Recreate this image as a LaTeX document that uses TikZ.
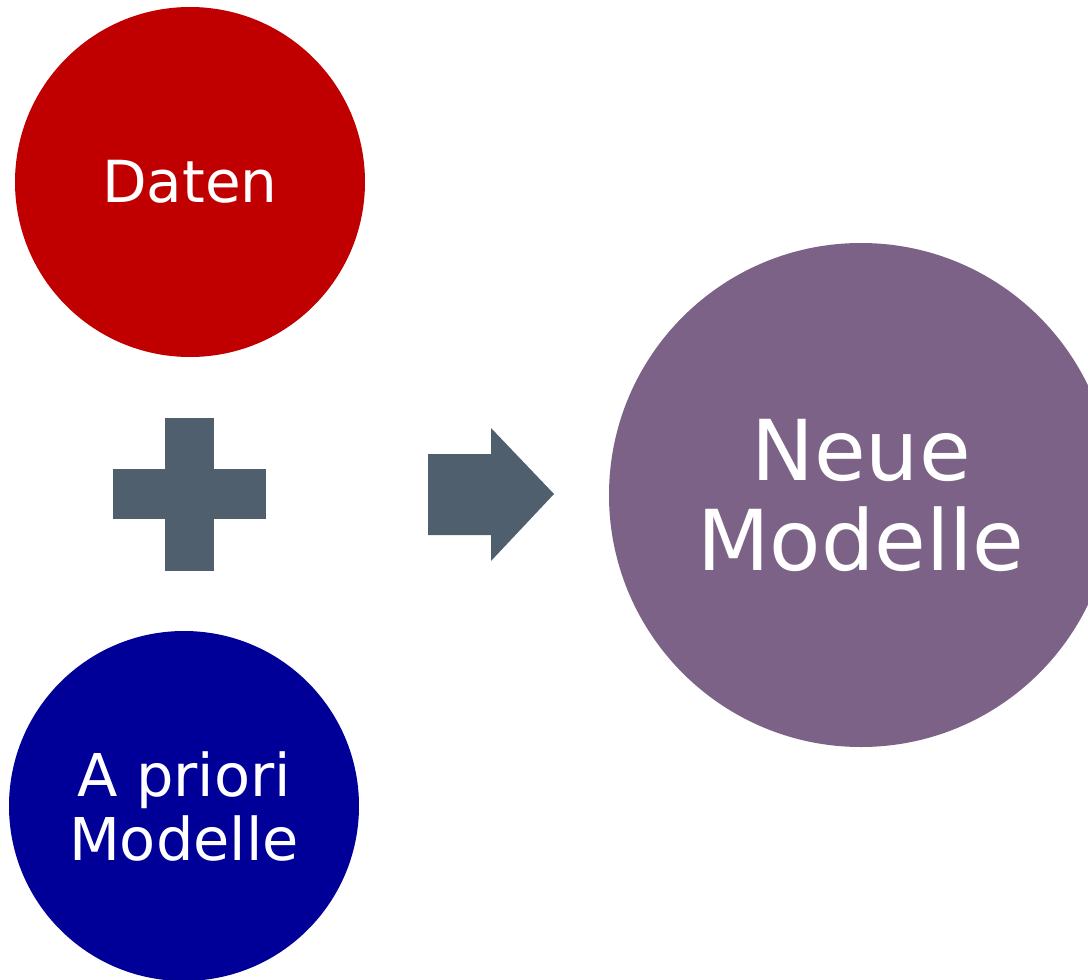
\documentclass[tikz,border=0pt]{standalone}
\usepackage{fontspec}
\setmainfont{DejaVu Sans}
\begin{document}
\begin{tikzpicture}[x=1pt,y=-1pt]
\definecolor{datenred}{HTML}{C00000}
\definecolor{prioriblue}{HTML}{000099}
\definecolor{neuepurple}{HTML}{7D6287}
\definecolor{opgray}{HTML}{4F5F6D}
\tikzset{
  bubble/.style={circle,inner sep=0pt,text=white,align=center},
  opshape/.style={fill=opgray,draw=none}
}
\useasboundingbox (0,0) rectangle (1088,980);
\clip (0,0) rectangle (1088,980);
% input circles
\node[bubble,fill=datenred,minimum size=350pt,
      font=\fontsize{58pt}{64pt}\selectfont] (daten) at (190,182) {Daten};
\node[bubble,fill=prioriblue,minimum size=350pt,
      font=\fontsize{59pt}{64pt}\selectfont] (priori) at (184,806) {A priori\\Modelle};
% result circle
\node[bubble,fill=neuepurple,minimum size=504pt,
      font=\fontsize{84pt}{90pt}\selectfont] (neue) at (861,495) {Neue\\Modelle};
% plus sign
\fill[opshape] (165,418) rectangle (214,571);
\fill[opshape] (113,469) rectangle (266,519);
% block arrow
\coordinate (arrtip) at (554,494);
\fill[opshape] (428,454) -- (491,454) -- (491,428) -- (arrtip)
  -- (491,561) -- (491,535) -- (428,535) -- cycle;
\end{tikzpicture}
\end{document}
